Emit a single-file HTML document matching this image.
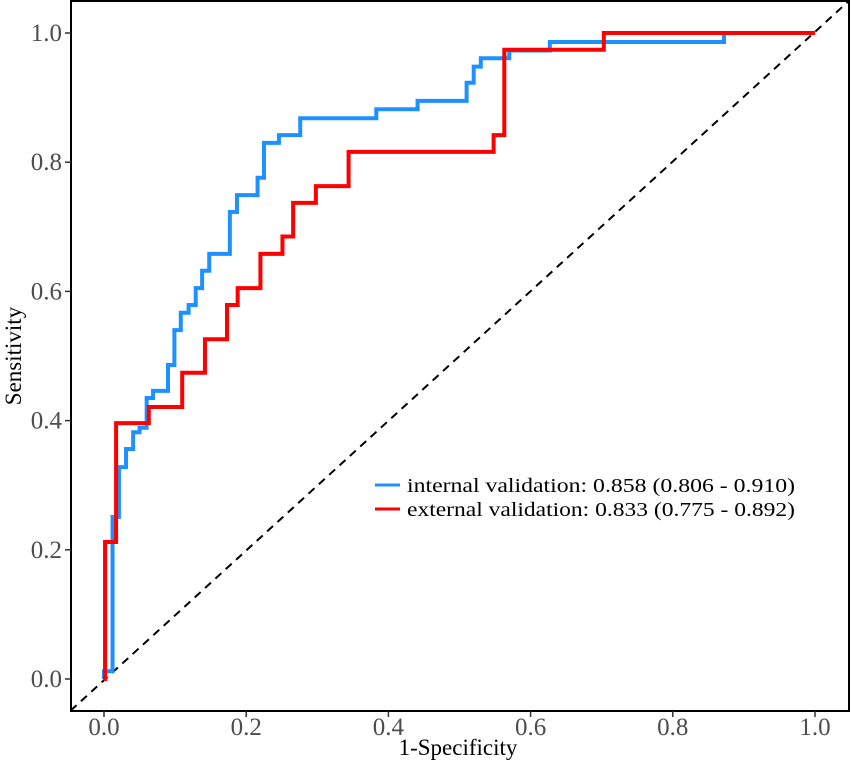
<!DOCTYPE html>
<html><head><meta charset="utf-8"><style>
body{margin:0;background:#fff}
svg text{font-family:"Liberation Serif",serif}
</style></head><body>
<svg id="chart" width="851" height="763" viewBox="0 0 851 763">
<rect x="0" y="0" width="851" height="763" fill="#fff"/>
<g id="plot"></g>
</svg>
<script>
const xTicks=[0,0.2,0.4,0.6,0.8,1.0];
const yTicks=[0,0.2,0.4,0.6,0.8,1.0];
const tickLabels=["0.0","0.2","0.4","0.6","0.8","1.0"];
const internalFpr=[0,0.012,0.021,0.031,0.041,0.050,0.060,0.069,0.090,0.099,0.108,0.119,0.129,0.138,0.148,0.177,0.187,0.216,0.225,0.246,0.276,0.383,0.441,0.510,0.520,0.530,0.570,0.627,0.872,1.0];
const internalTpr=[0.012,0.251,0.328,0.356,0.382,0.389,0.435,0.446,0.486,0.540,0.567,0.579,0.605,0.632,0.658,0.723,0.749,0.776,0.830,0.842,0.868,0.882,0.895,0.923,0.948,0.961,0.973,0.986,1.0,1.0];
const externalFpr=[0.0015,0.017,0.063,0.110,0.142,0.173,0.188,0.220,0.251,0.266,0.298,0.344,0.548,0.563,0.703,1.0];
const externalTpr=[0.212,0.396,0.421,0.474,0.526,0.579,0.605,0.658,0.685,0.737,0.763,0.816,0.842,0.974,1.0,1.0];
const legendLabels=["internal validation: 0.858 (0.806 - 0.910)","external validation: 0.833 (0.775 - 0.892)"];
const NS="http://www.w3.org/2000/svg";
const g=document.getElementById('plot');
const sx=v=>104+v*711, sy=v=>679-v*646;
function mk(t,a){const e=document.createElementNS(NS,t);for(const k in a)e.setAttribute(k,a[k]);g.appendChild(e);return e;}
let d=mk('line',{x1:sx(-0.047),y1:sy(-0.049),x2:sx(1.047),y2:sy(1.049),stroke:'#000','stroke-width':2,'stroke-dasharray':'8,6'});


function stepPath(fx,ty){
  let p='M'+sx(0)+','+sy(0);
  for(let i=0;i<fx.length;i++){p+=' H'+sx(fx[i])+' V'+sy(ty[i]);}
  return p;
}
let pb=mk('path',{d:stepPath(internalFpr,internalTpr),fill:'none',stroke:'#1e90ff','stroke-width':4});


let pr=mk('path',{d:stepPath(externalFpr,externalTpr),fill:'none',stroke:'#ff0000','stroke-width':4});


let fr=mk('rect',{x:71,y:1,width:778,height:710,fill:'none',stroke:'#000','stroke-width':2});


yTicks.forEach((v,i)=>{
  let t=mk('line',{x1:65,x2:71,y1:sy(v),y2:sy(v),stroke:'#333','stroke-width':1.5});
  
  
  let l=mk('text',{x:62,y:sy(v)+8,'text-anchor':'end','font-size':25,fill:'#4d4d4d'});
  l.textContent=tickLabels[i];
  
  
});
xTicks.forEach((v,i)=>{
  let t=mk('line',{x1:sx(v),x2:sx(v),y1:711,y2:717,stroke:'#333','stroke-width':1.5});
  
  
  let l=mk('text',{x:sx(v),y:735,'text-anchor':'middle','font-size':25,fill:'#4d4d4d'});
  l.textContent=tickLabels[i];
  
  
});
let xt=mk('text',{x:458,y:755,'text-anchor':'middle','font-size':23,fill:'#000'});
xt.textContent='1-Specificity';


let yt=mk('text',{x:0,y:0,'text-anchor':'middle','font-size':23,fill:'#000',transform:'translate(21,356) rotate(-90)'});
yt.textContent='Sensitivity';


const legColors=['#1e90ff','#ff0000'];
legendLabels.forEach((s,i)=>{
  const y=485+i*24;
  let ln=mk('line',{x1:375,x2:400,y1:y,y2:y,stroke:legColors[i],'stroke-width':3});
  
  
  let t=mk('text',{x:407,y:y+7,'font-size':20,fill:'#000',textLength:388,lengthAdjust:'spacingAndGlyphs'});
  t.textContent=s;
  
  
});
</script>
</body></html>
